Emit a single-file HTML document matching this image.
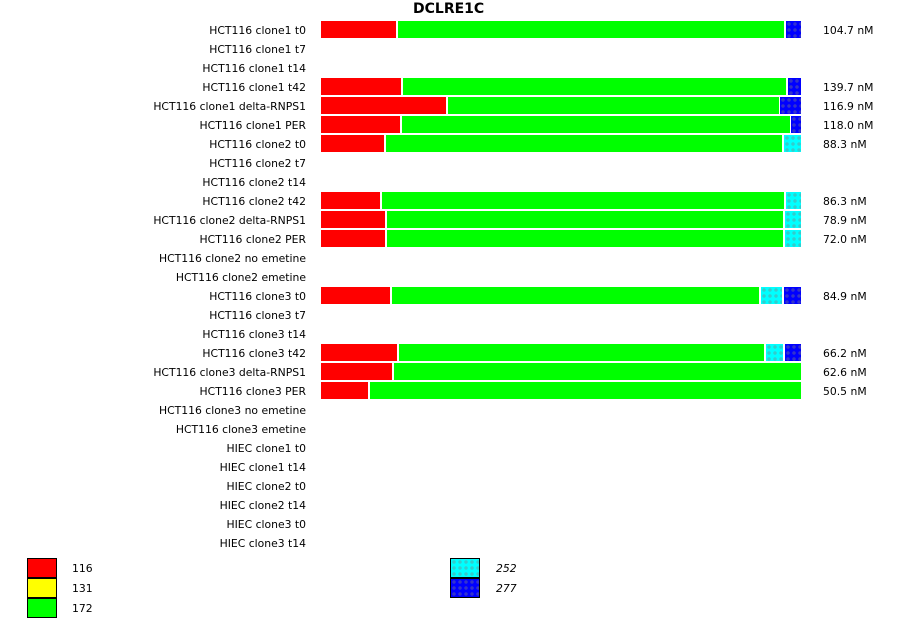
<!DOCTYPE html>
<html><head><meta charset="utf-8"><style>
body{margin:0;width:900px;height:622px;background:#fff;position:relative;overflow:hidden;font-family:"DejaVu Sans","Liberation Sans",sans-serif;font-size:10.8px;color:#000}
.l{position:absolute;right:594px;white-space:nowrap;line-height:13px}
.v{position:absolute;left:823px;white-space:nowrap;line-height:13px}
.b{position:absolute;height:17px}
.r{background:#f00}.g{background:#0f0}
.c{background-color:#0ff;background-image:radial-gradient(circle,#3cc 1.5px,transparent 2px);background-size:6px 6px}
.d{background-color:#00f;background-image:radial-gradient(circle,#33c 1.5px,transparent 2px);background-size:6px 6px}
.k{position:absolute;width:28px;height:18px;border:1px solid #000}
.t{position:absolute;line-height:13px}
</style></head><body>
<div style="position:absolute;left:413px;top:1px;font-weight:bold;font-size:14px">DCLRE1C</div>

<div class="l" style="top:24px">HCT116 clone1 t0</div>
<div class="l" style="top:43px">HCT116 clone1 t7</div>
<div class="l" style="top:62px">HCT116 clone1 t14</div>
<div class="l" style="top:81px">HCT116 clone1 t42</div>
<div class="l" style="top:100px">HCT116 clone1 delta-RNPS1</div>
<div class="l" style="top:119px">HCT116 clone1 PER</div>
<div class="l" style="top:138px">HCT116 clone2 t0</div>
<div class="l" style="top:157px">HCT116 clone2 t7</div>
<div class="l" style="top:176px">HCT116 clone2 t14</div>
<div class="l" style="top:195px">HCT116 clone2 t42</div>
<div class="l" style="top:214px">HCT116 clone2 delta-RNPS1</div>
<div class="l" style="top:233px">HCT116 clone2 PER</div>
<div class="l" style="top:252px">HCT116 clone2 no emetine</div>
<div class="l" style="top:271px">HCT116 clone2 emetine</div>
<div class="l" style="top:290px">HCT116 clone3 t0</div>
<div class="l" style="top:309px">HCT116 clone3 t7</div>
<div class="l" style="top:328px">HCT116 clone3 t14</div>
<div class="l" style="top:347px">HCT116 clone3 t42</div>
<div class="l" style="top:366px">HCT116 clone3 delta-RNPS1</div>
<div class="l" style="top:385px">HCT116 clone3 PER</div>
<div class="l" style="top:404px">HCT116 clone3 no emetine</div>
<div class="l" style="top:423px">HCT116 clone3 emetine</div>
<div class="l" style="top:442px">HIEC clone1 t0</div>
<div class="l" style="top:461px">HIEC clone1 t14</div>
<div class="l" style="top:480px">HIEC clone2 t0</div>
<div class="l" style="top:499px">HIEC clone2 t14</div>
<div class="l" style="top:518px">HIEC clone3 t0</div>
<div class="l" style="top:537px">HIEC clone3 t14</div>

<div class="b r" style="top:21px;left:321px;width:75px"></div>
<div class="b g" style="top:21px;left:398px;width:386px"></div>
<div class="b d" style="top:21px;left:786px;width:15px"></div>
<div class="v" style="top:24px">104.7 nM</div>
<div class="b r" style="top:78px;left:321px;width:80px"></div>
<div class="b g" style="top:78px;left:403px;width:383px"></div>
<div class="b d" style="top:78px;left:788px;width:13px"></div>
<div class="v" style="top:81px">139.7 nM</div>
<div class="b r" style="top:97px;left:321px;width:125px"></div>
<div class="b g" style="top:97px;left:448px;width:331px"></div>
<div class="b d" style="top:97px;left:780px;width:21px"></div>
<div class="v" style="top:100px">116.9 nM</div>
<div class="b r" style="top:116px;left:321px;width:79px"></div>
<div class="b g" style="top:116px;left:402px;width:388px"></div>
<div class="b d" style="top:116px;left:791px;width:10px"></div>
<div class="v" style="top:119px">118.0 nM</div>
<div class="b r" style="top:135px;left:321px;width:63px"></div>
<div class="b g" style="top:135px;left:386px;width:396px"></div>
<div class="b c" style="top:135px;left:784px;width:17px"></div>
<div class="v" style="top:138px">88.3 nM</div>
<div class="b r" style="top:192px;left:321px;width:59px"></div>
<div class="b g" style="top:192px;left:382px;width:402px"></div>
<div class="b c" style="top:192px;left:786px;width:15px"></div>
<div class="v" style="top:195px">86.3 nM</div>
<div class="b r" style="top:211px;left:321px;width:64px"></div>
<div class="b g" style="top:211px;left:387px;width:396px"></div>
<div class="b c" style="top:211px;left:785px;width:16px"></div>
<div class="v" style="top:214px">78.9 nM</div>
<div class="b r" style="top:230px;left:321px;width:64px"></div>
<div class="b g" style="top:230px;left:387px;width:396px"></div>
<div class="b c" style="top:230px;left:785px;width:16px"></div>
<div class="v" style="top:233px">72.0 nM</div>
<div class="b r" style="top:287px;left:321px;width:69px"></div>
<div class="b g" style="top:287px;left:392px;width:367px"></div>
<div class="b c" style="top:287px;left:761px;width:21px"></div>
<div class="b d" style="top:287px;left:784px;width:17px"></div>
<div class="v" style="top:290px">84.9 nM</div>
<div class="b r" style="top:344px;left:321px;width:76px"></div>
<div class="b g" style="top:344px;left:399px;width:365px"></div>
<div class="b c" style="top:344px;left:766px;width:17px"></div>
<div class="b d" style="top:344px;left:785px;width:16px"></div>
<div class="v" style="top:347px">66.2 nM</div>
<div class="b r" style="top:363px;left:321px;width:71px"></div>
<div class="b g" style="top:363px;left:394px;width:407px"></div>
<div class="v" style="top:366px">62.6 nM</div>
<div class="b r" style="top:382px;left:321px;width:47px"></div>
<div class="b g" style="top:382px;left:370px;width:431px"></div>
<div class="v" style="top:385px">50.5 nM</div>

<div class="k r" style="left:27px;top:558px"></div>
<div class="k" style="left:27px;top:578px;background:#ff0"></div>
<div class="k g" style="left:27px;top:598px"></div>
<div class="t" style="left:72px;top:562px">116</div>
<div class="t" style="left:72px;top:582px">131</div>
<div class="t" style="left:72px;top:602px">172</div>
<div class="k c" style="left:450px;top:558px"></div>
<div class="k d" style="left:450px;top:578px"></div>
<div class="t" style="left:496px;top:562px;font-style:italic">252</div>
<div class="t" style="left:496px;top:582px;font-style:italic">277</div>
</body></html>
